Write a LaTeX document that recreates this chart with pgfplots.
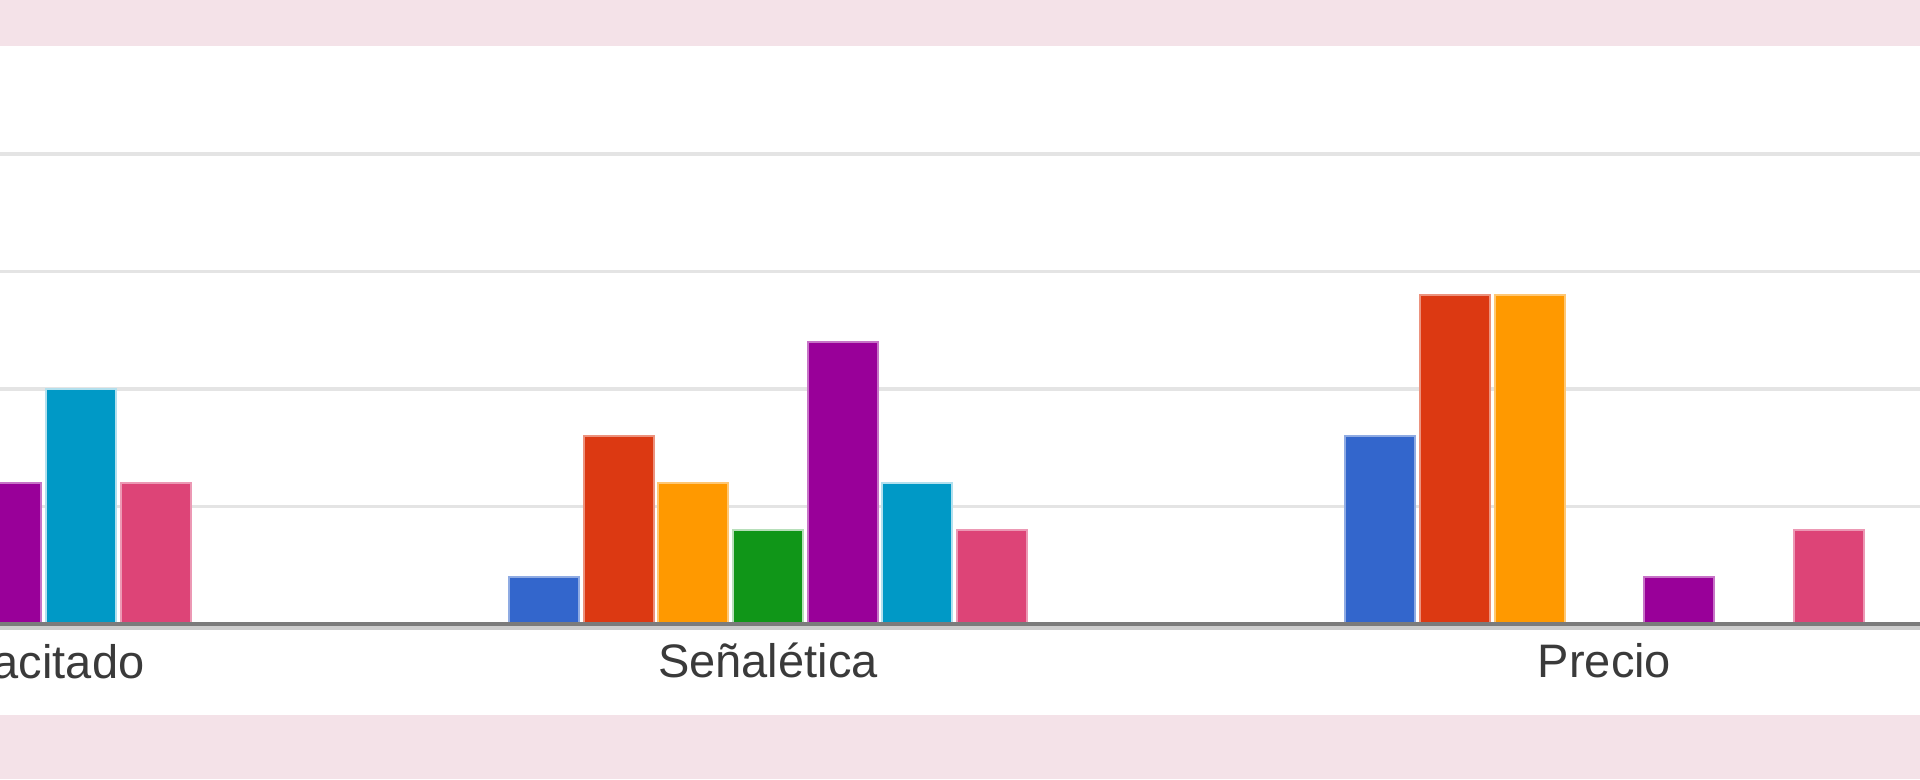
\documentclass[border=0pt]{standalone}
\usepackage{fontspec}
\setmainfont{Liberation Sans}
\usepackage{pgfplots}
\pgfplotsset{compat=1.18}
\definecolor{bgpink}{HTML}{F4E2E8}
\definecolor{cblue}{HTML}{3366CC}
\definecolor{cred}{HTML}{DC3912}
\definecolor{corange}{HTML}{FF9900}
\definecolor{cgreen}{HTML}{109618}
\definecolor{cpurple}{HTML}{990099}
\definecolor{ccyan}{HTML}{0099C6}
\definecolor{cpink}{HTML}{DD4477}
\definecolor{gridc}{HTML}{E4E4E4}
\definecolor{basedark}{HTML}{7B7B7B}
\definecolor{baselight}{HTML}{CDCDCD}
\definecolor{labelgray}{HTML}{3A3A3A}
\tikzset{catlabel/.style={font=\fontsize{9.4}{11}\selectfont, text=labelgray}}
\begin{document}
\begin{tikzpicture}
\path[use as bounding box] (0,0) rectangle (384pt,155.8pt);
\clip (0,0) rectangle (384pt,155.8pt);
\fill[bgpink] (0,0) rectangle (384pt,155.8pt);
\fill[white] (0,12.8pt) rectangle (384pt,146.6pt);
\begin{axis}[
  at={(0pt,12.8pt)}, anchor=south west,
  scale only axis, width=384pt, height=133.8pt,
  xmin=0.0819, xmax=2.3772, ymin=-1.936, ymax=12.298,
  axis line style={draw=none},
  major tick length=0pt,
  xtick={1,2}, xticklabels={Señalética, Precio},
  xticklabel style={catlabel, anchor=base, yshift=7.4pt},
  ytick={2.5,5,7.5,10}, yticklabels={},
  ymajorgrids, grid style={line width=0.7pt, gridc},
  clip=false,
  every axis plot/.append style={ybar, bar width=14pt, line width=0.4pt},
]
\addplot[fill=cblue, draw=cblue!55!white, bar shift=-44.82pt] coordinates {(1,1) (2,4)};
\addplot[fill=cred, draw=cred!55!white, bar shift=-29.88pt] coordinates {(1,4) (2,7)};
\addplot[fill=corange, draw=corange!55!white, bar shift=-14.94pt] coordinates {(1,3) (2,7)};
\addplot[fill=cgreen, draw=cgreen!30!white, bar shift=0pt] coordinates {(1,2) (2,0)};
\addplot[fill=cpurple, draw=cpurple!55!white, bar shift=14.94pt] coordinates {(0,3) (1,6) (2,1)};
\addplot[fill=ccyan, draw=ccyan!30!white, bar shift=29.88pt] coordinates {(0,5) (1,3) (2,0)};
\addplot[fill=cpink, draw=cpink!55!white, bar shift=44.82pt] coordinates {(0,3) (1,2) (2,2)};
\draw[baselight, line width=0.8pt, yshift=-0.8pt] (axis cs:0.0819,0) -- (axis cs:2.3772,0);
\draw[basedark, line width=0.8pt] (axis cs:0.0819,0) -- (axis cs:2.3772,0);
\node[catlabel, anchor=base] at (axis cs:0,-1.149) {Personal capacitado};
\end{axis}
\end{tikzpicture}
\end{document}
